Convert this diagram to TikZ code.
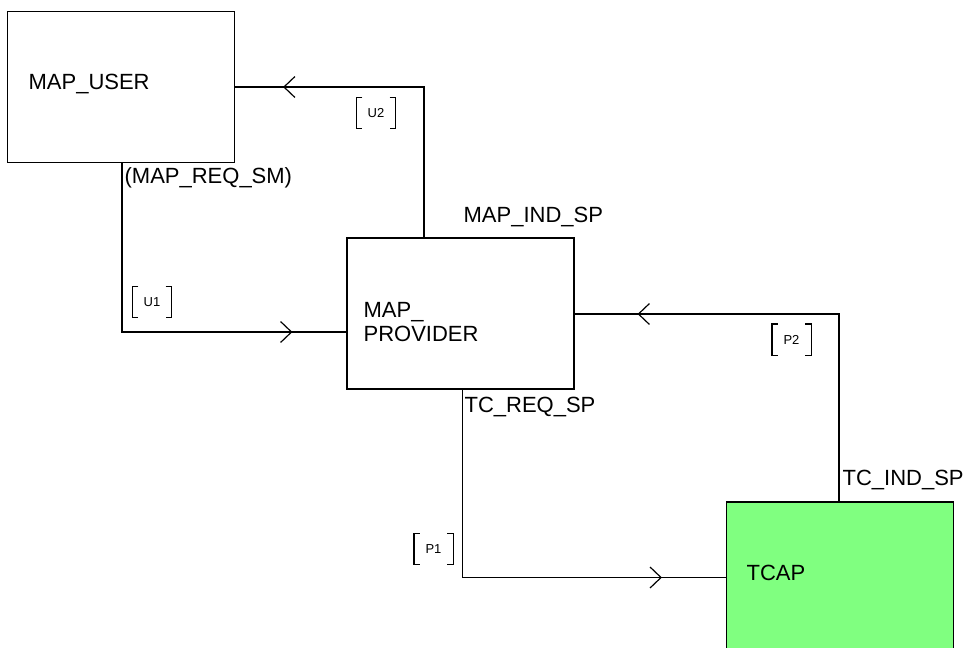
\documentclass[tikz,border=0pt]{standalone}
\usepackage{fontspec}
\setmainfont{Liberation Sans}
\usetikzlibrary{arrows.meta,decorations.markings}
\definecolor{tcapgreen}{RGB}{128,255,128}

\begin{document}
\begin{tikzpicture}
 [x=1pt,y=-1pt,line width=1.2pt,
  every node/.style={font=\fontsize{22}{24}\selectfont,inner sep=0pt},
  block/.style={draw,rectangle,minimum width=227pt,minimum height=151pt},
  tag/.style={font=\fontsize{13}{15}\selectfont,minimum width=38pt,minimum height=30pt},
  flow/.style={postaction={decorate},decoration={markings,
    mark=at position -#1 with {\arrow{Straight Barb[length=11pt,width=21pt]}}}}]
  \useasboundingbox (0,0) rectangle (964,648);

  \node[block] (user) at (121,87) {};
  \node[block] (prov) at (460.5,313.5) {};
  \node[block,fill=tcapgreen] (tcap) at (840,577.5) {};

  \node[anchor=base west] (usertxt) at (28,89) {MAP\_USER};
  \node[anchor=base west] (provtxt1) at (363,317) {MAP\_};
  \node[anchor=base west] (provtxt2) at (363,341) {PROVIDER};
  \node[anchor=base west] (tcaptxt) at (746,580) {TCAP};

  \node[anchor=base west] (reqsm) at (124,183) {(MAP\_REQ\_SM)};
  \node[anchor=base west] (indsp) at (463,222) {MAP\_IND\_SP};
  \node[anchor=base west] (reqsp) at (464,412) {TC\_REQ\_SP};
  \node[anchor=base west] (tcind) at (842,485) {TC\_IND\_SP};

  \node[tag] (u1) at (152,302) {U1};
  \node[tag] (u2) at (376,113) {U2};
  \node[tag] (p1) at (433.5,549) {P1};
  \node[tag] (p2) at (791.5,339.5) {P2};

  \foreach \t in {u1,u2,p1,p2} {
    \draw ([xshift=6pt]\t.north west) -| (\t.south west) -- ++(6,0);
    \draw ([xshift=-6pt]\t.north east) -| (\t.south east) -- ++(-6,0);
  }

  \draw[flow=54pt] ([xshift=115pt]user.south west) |- ([yshift=-18.5pt]prov.west);
  \draw[flow=48pt] ([xshift=-36.5pt]prov.north) |- (user.east);
  \draw[flow=64pt] ([xshift=2pt]prov.south) |- (tcap.west);
  \draw[flow=63pt] ([xshift=-1pt]tcap.north) |- ([yshift=-0.5pt]prov.east);
\end{tikzpicture}
\end{document}
